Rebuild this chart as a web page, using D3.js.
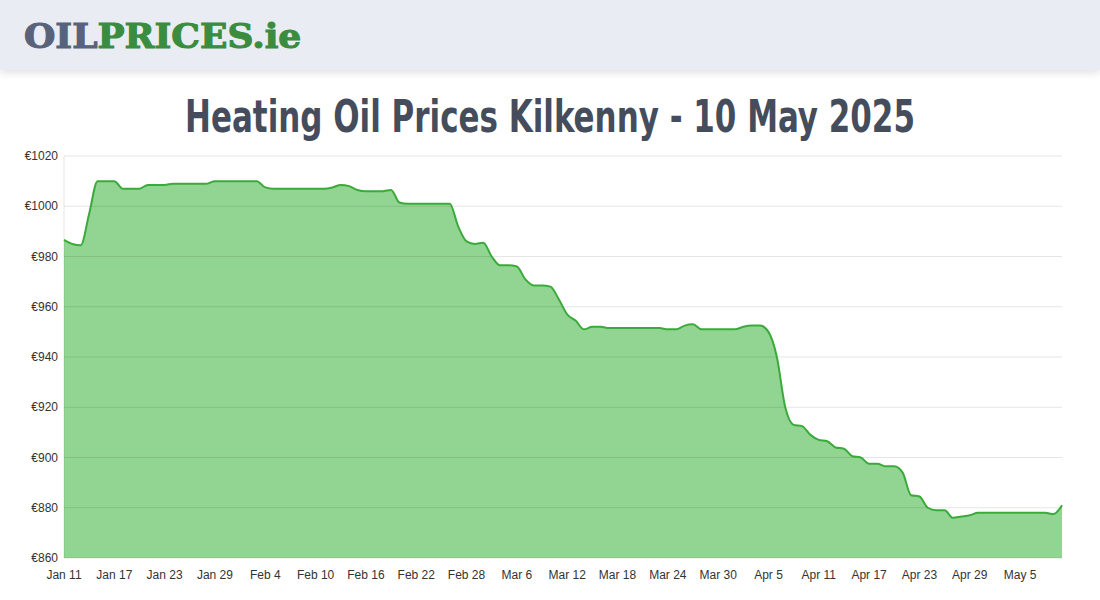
<!DOCTYPE html>
<html><head><meta charset="utf-8">
<script src="https://cdn.jsdelivr.net/npm/d3@7"></script>
<style>
body{margin:0;background:#fff;width:1100px;height:600px;overflow:hidden;font-family:"Liberation Sans",Arial,sans-serif}
#hdr{position:absolute;left:0;top:0;width:1100px;height:70px;background:#eaecf4;box-shadow:0 3px 8px rgba(0,0,0,0.12)}
#logo{position:absolute;left:24px;top:16px;font-family:"DejaVu Serif",serif;font-weight:900;font-size:36px;letter-spacing:0px;transform:scale(1.0,0.95);transform-origin:left top;-webkit-text-stroke:1.2px currentColor}
#logo .a{color:#58627a}#logo .b{color:#3a8c3f}
</style></head><body>
<div id="hdr"><div id="logo"><span class="a">OIL</span><span class="b">PRICES.ie</span></div></div>
<svg id="c" width="1100" height="600" style="position:absolute;left:0;top:0"></svg>
<script>
const startDate = "2025-01-11";
const prices = [986.6,985,984.5,997,1010,1010,1010,1007,1007,1007,
1008.5,1008.5,1008.5,1009,1009,1009,1009,1009,1010,1010,
1010,1010,1010,1010,1007.5,1007,1007,1007,1007,1007,
1007,1007,1007.5,1008.5,1008,1006.5,1006,1006,1006,1006.5,
1001.5,1001,1001,1001,1001,1001,1001,992,986,985,
985.5,980,976.5,976.5,976,971,968.5,968.5,968,963,
957,954.5,951,952,952,951.5,951.5,951.5,951.5,951.5,
951.5,951.5,951,951,952.5,953,951,951,951,951,
951,952,952.5,952.5,950,940,920,913,912.5,909,
907,906.5,904,903.5,900.5,900,897.5,897.5,896.5,896.5,
894,885,884.5,880,879,879,876,876.5,877,878,
878,878,878,878,878,878,878,878,877.5,881];
const yTicks = [860,880,900,920,940,960,980,1000,1020];
const xTickLabels = ["Jan 11","Jan 17","Jan 23","Jan 29","Feb 4","Feb 10","Feb 16","Feb 22","Feb 28","Mar 6","Mar 12","Mar 18","Mar 24","Mar 30","Apr 5","Apr 11","Apr 17","Apr 23","Apr 29","May 5"];
const title = "Heating Oil Prices Kilkenny - 10 May 2025";

const svg = d3.select("#c");
const t0 = new Date(startDate+"T00:00:00");
const data = prices.map((v,i)=>({d:d3.timeDay.offset(t0,i),v}));
const L=64,R=1062,T=156,B=558;
const x = d3.scaleTime().domain([t0,d3.timeDay.offset(t0,119)]).range([L,R]);
const y = d3.scaleLinear().domain([860,1020]).range([B,T]);

const tt = svg.append("text").attr("text-anchor","middle")
 .attr("font-family","'DejaVu Sans Condensed','DejaVu Sans',sans-serif").attr("font-weight","bold").attr("font-size",34)
 .attr("fill","#454c5c").text(title);
const w = tt.node().getComputedTextLength();
tt.attr("transform",`translate(550,132) scale(${730/w},1.3)`);

svg.append("path").datum(data).attr("fill","#92d592")
 .attr("d",d3.area().x(d=>x(d.d)).y0(B).y1(d=>y(d.v)).curve(d3.curveMonotoneX));

const g=svg.append("g");
yTicks.forEach(t=>{
 g.append("line").attr("x1",L).attr("x2",R).attr("y1",y(t)).attr("y2",y(t)).attr("stroke","rgba(0,0,0,0.1)");
 g.append("text").attr("x",L-6).attr("y",y(t)+4).attr("text-anchor","end").attr("font-size",12).attr("fill","#333").text("€"+t);
});
g.append("line").attr("x1",L).attr("x2",L).attr("y1",T).attr("y2",B).attr("stroke","rgba(0,0,0,0.1)");

svg.append("path").datum(data).attr("fill","none").attr("stroke","#3aaa3a").attr("stroke-width",2)
 .attr("d",d3.line().x(d=>x(d.d)).y(d=>y(d.v)).curve(d3.curveMonotoneX));

xTickLabels.forEach((lab,i)=>{
 svg.append("text").attr("x",x(d3.timeDay.offset(t0,i*6))).attr("y",579).attr("text-anchor","middle")
  .attr("font-size",12).attr("fill","#333").text(lab);
});
</script></body></html>
